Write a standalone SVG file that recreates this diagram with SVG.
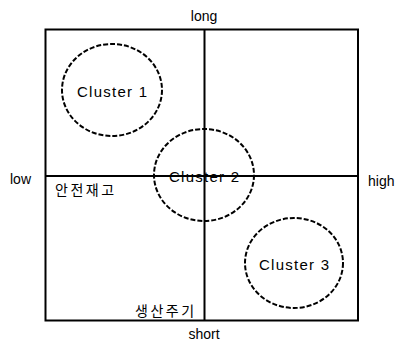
<svg xmlns="http://www.w3.org/2000/svg" width="399" height="345" viewBox="0 0 399 345">
<style>
.ax{stroke:#000;stroke-width:2;fill:none}
.cl{stroke:#000;stroke-width:2;fill:none;stroke-dasharray:5 2}
text{font-family:"Liberation Sans","Noto Sans CJK KR",sans-serif;font-size:14px;fill:#000}
.c{font-size:15px}
.ko{font-size:14px;letter-spacing:2.5px}
</style>
<rect x="0" y="0" width="399" height="345" fill="#fff"/>
<g id="connectors">
<rect class="ax" x="45.5" y="29.5" width="312.5" height="291"/>
<line class="ax" x1="204.5" y1="29.5" x2="204.5" y2="320.5"/>
<line class="ax" x1="45.5" y1="176" x2="358" y2="176"/>
</g>
<g id="cluster1"><ellipse class="cl" cx="112" cy="90" rx="50" ry="46"/><text class="c" x="112" y="97" text-anchor="middle" textLength="70">Cluster 1</text></g>
<g id="cluster2"><ellipse class="cl" cx="204" cy="175" rx="50" ry="46"/><text class="c" x="204" y="182" text-anchor="middle" textLength="70">Cluster 2</text></g>
<g id="cluster3"><ellipse class="cl" cx="294" cy="263" rx="49" ry="45"/><text class="c" x="294" y="270" text-anchor="middle" textLength="70">Cluster 3</text></g>
<g id="labels">
<text x="204" y="21" text-anchor="middle">long</text>
<text x="204" y="339" text-anchor="middle">short</text>
<text x="10" y="184">low</text>
<text x="368" y="186">high</text>
<text class="ko" x="55" y="195">안전재고</text>
<text class="ko" x="135" y="316">생산주기</text>
</g>
</svg>
